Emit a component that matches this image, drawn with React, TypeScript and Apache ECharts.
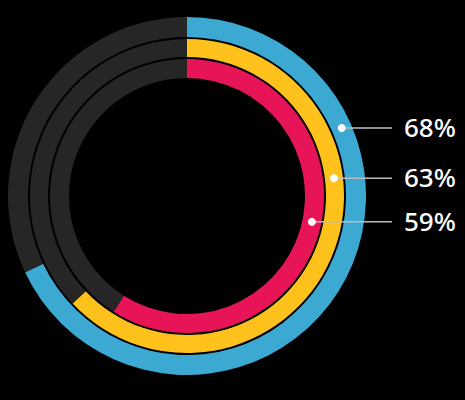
import React, { useEffect, useRef } from "react";
import * as echarts from "echarts";

const names = ["Outer", "Middle", "Inner"];
const values = [68, 63, 59];
const colors = ["#3BA9D1", "#FFC21D", "#E71458"];
const labelAngles = [23.7, 6.9, -11.7]; // degrees above horizontal for label dots

const CX = 187;
const CY = 196;
const radii: [number, number][] = [
  [159, 179],
  [139, 157],
  [118, 137],
];

export default function App() {
  const ref = useRef<HTMLDivElement>(null);
  useEffect(() => {
    document.body.style.margin = "0";
    const chart = echarts.init(ref.current!, undefined, { renderer: "svg" });
    const series = values.map((v, i) => ({
      type: "pie",
      name: names[i],
      center: [CX, CY],
      radius: radii[i],
      startAngle: 90,
      clockwise: true,
      silent: true,
      label: { show: false },
      labelLine: { show: false },
      data: [
        { value: v, itemStyle: { color: colors[i] } },
        { value: 100 - v, itemStyle: { color: "#262626" } },
      ],
    }));
    const graphics: any[] = [];
    values.forEach((v, i) => {
      const r = (radii[i][0] + radii[i][1]) / 2;
      const a = (labelAngles[i] * Math.PI) / 180;
      const x = CX + r * Math.cos(a);
      const y = CY - r * Math.sin(a);
      graphics.push({
        type: "line",
        shape: { x1: x, y1: y, x2: 392, y2: y },
        style: { stroke: "#bdbdbd", lineWidth: 1.5 },
        z: 10,
      });
      graphics.push({
        type: "circle",
        shape: { cx: x, cy: y, r: 4 },
        style: { fill: "#ffffff" },
        z: 11,
      });
      graphics.push({
        type: "text",
        x: 404,
        y: y - 1,
        style: {
          text: v + "%",
          fill: "#ffffff",
          font: "500 26px 'Noto Sans'",
          textVerticalAlign: "middle",
          verticalAlign: "middle",
        },
        z: 11,
      });
    });
    chart.setOption({
      animation: false,
      backgroundColor: "#000000",
      series,
      graphic: graphics,
    });
    return () => chart.dispose();
  }, []);
  return (
    <div
      ref={ref}
      style={{ position: "fixed", left: 0, top: 0, width: 465, height: 400 }}
    />
  );
}
